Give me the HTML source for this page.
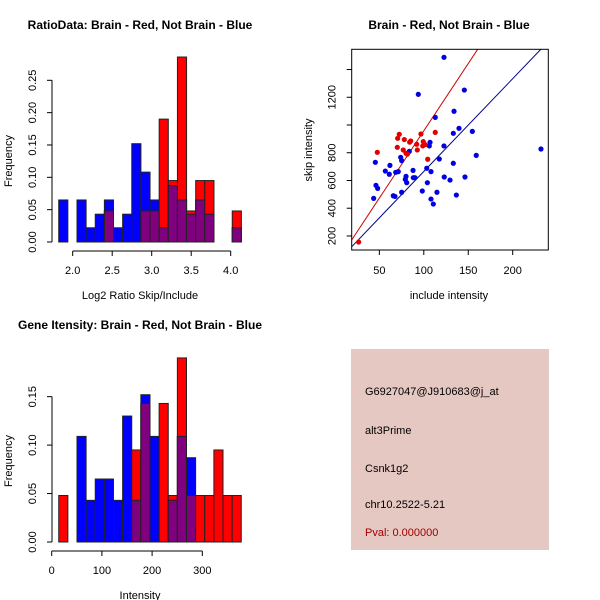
<!DOCTYPE html>
<html><head><meta charset="utf-8"><style>
body{margin:0;background:#fff;}
svg{display:block;font-family:"Liberation Sans",sans-serif;}
</style></head><body>
<svg id="s" width="600" height="600" viewBox="0 0 600 600">
<rect x="0" y="0" width="600" height="600" fill="#fff"/>
<text x="140" y="29" font-size="12" font-weight="bold" text-anchor="middle">RatioData: Brain - Red, Not Brain - Blue</text>
<text x="449" y="29" font-size="12" font-weight="bold" text-anchor="middle">Brain - Red, Not Brain - Blue</text>
<text x="140" y="329" font-size="12" font-weight="bold" text-anchor="middle">Gene Itensity: Brain - Red, Not Brain - Blue</text>
<text x="140" y="299" font-size="11" text-anchor="middle">Log2 Ratio Skip/Include</text>
<text transform="translate(12,161) rotate(-90)" font-size="11" text-anchor="middle">Frequency</text>
<text x="449" y="299" font-size="11" text-anchor="middle">include intensity</text>
<text transform="translate(312,150) rotate(-90)" font-size="11" text-anchor="middle">skip intensity</text>
<text x="140" y="599" font-size="11" text-anchor="middle">Intensity</text>
<text transform="translate(12,461) rotate(-90)" font-size="11" text-anchor="middle">Frequency</text>
<g>
<rect x="351" y="349" width="198" height="201" fill="#e6c8c2"/>
<text x="365" y="395" font-size="11">G6927047@J910683@j_at</text>
<text x="365" y="434" font-size="11">alt3Prime</text>
<text x="365" y="472" font-size="11">Csnk1g2</text>
<text x="365" y="508" font-size="11">chr10.2522-5.21</text>
<text x="365" y="536" font-size="11" fill="#a00000">Pval: 0.000000</text>
</g>
</svg>
<script>
// Ratio histogram data
const ratioBinStart = 1.823, ratioBinWidth = 0.1156;
const ratioBlue = [0.065,0,0.065,0.022,0.043,0.065,0.022,0.043,0.152,0.108,0.065,0.022,0.087,0.065,0.043,0.065,0.043,0,0,0.022];
const ratioRed  = [0,0,0,0,0,0.048,0,0,0,0.048,0.048,0.19,0.095,0.286,0.048,0.095,0.095,0,0,0.048];
const ratioXTicks = [2.0,2.5,3.0,3.5,4.0];
const ratioXLabels = ["2.0","2.5","3.0","3.5","4.0"];
const ratioYTicks = [0,0.05,0.1,0.15,0.2,0.25];
const ratioYLabels = ["0.00","0.05","0.10","0.15","0.20","0.25"];
// Intensity histogram data
const intBinStart = 14, intBinWidth = 18.18;
const intBlue = [0,0,0.109,0.043,0.065,0.065,0.043,0.13,0.043,0.152,0.109,0,0.043,0.109,0.087,0,0,0,0,0];
const intRed  = [0.048,0,0,0,0,0,0,0,0.095,0.143,0,0.143,0.048,0.19,0.048,0.048,0.048,0.095,0.048,0.048];
const intXTicks = [0,100,200,300];
const intXLabels = ["0","100","200","300"];
const intYTicks = [0,0.05,0.1,0.15];
const intYLabels = ["0.00","0.05","0.10","0.15"];
// Scatter data
const blueX = [122.7,93.8,145.6,134,112.9,139.6,133.2,154.6,107,106.2,122.7,159,231.8,83.7,74,75.1,117.4,45.5,61.9,56.7,61.2,68.4,71.3,87.9,103.3,108.1,133.2,79.2,80.8,88.2,90.1,104,123,129.5,146.3,46.2,48.1,65.7,67.6,75.1,98.3,108.1,114.8,136.6,43.6,110.7,80];
const blueY = [1488,1221,1252,1099,1055,976,940,954,875,849,849,781,827,810,767,743,755,731,709,668,645,659,664,673,688,664,724,608,584,620,620,584,625,603,625,565,543,490,485,515,524,466,515,495,471,430,630];
const redX = [26.7,47.7,72.4,70.6,78.1,85.3,84.1,96.8,112.9,99.4,92,98.8,101.6,70.2,76.9,80,81.5,92.7,104.4];
const redY = [156,803,933,904,895,885,876,935,947,880,861,849,858,839,820,796,790,820,753];
const redFit = [9.7,-12];   // slope, intercept
const blueFit = [6.69,-4];
const scX = [50,100,150,200];
const scYTicks = [200,400,600,800,1000,1200,1400];
const scYLabels = ["200","400","600","800","","1200",""];

const NS="http://www.w3.org/2000/svg";
const svg=document.getElementById('s');
function mk(tag,attrs,parent){const e=document.createElementNS(NS,tag);for(const k in attrs)e.setAttribute(k,attrs[k]);(parent||svg).appendChild(e);return e;}

function histogram(cfg){
  const g=mk('g',{});
  
  
  const xs=v=>cfg.x0+(v-cfg.xv0)*cfg.xk;
  const ys=v=>cfg.y0-v*cfg.yk;
  for(let i=0;i<cfg.blue.length;i++){
    const a=cfg.start+i*cfg.w,b=a+cfg.w;
    const x=xs(a),wd=xs(b)-xs(a);
    const draw=(v,col,nm)=>{ if(v<=0)return; const r=mk('rect',{x:x,y:ys(v),width:wd,height:ys(0)-ys(v),fill:col,stroke:'#222','stroke-width':1},g);
      
      };
    draw(cfg.blue[i],'#0000ff','blue-bar');
    draw(cfg.red[i],'#ff0000','red-bar');
    draw(Math.min(cfg.blue[i],cfg.red[i]),'#800080','overlap-bar');
  }
  const ax=mk('g',{stroke:'#000','stroke-width':1,fill:'none'},g);
  
  
  const xa=cfg.y0+9;
  mk('line',{x1:xs(cfg.xt[0]),x2:xs(cfg.xt[cfg.xt.length-1]),y1:xa,y2:xa},ax);
  cfg.xt.forEach((t,i)=>{mk('line',{x1:xs(t),x2:xs(t),y1:xa,y2:xa+5},ax);
    const tx=mk('text',{x:xs(t),y:xa+23,'font-size':11,'text-anchor':'middle',fill:'#000',stroke:'none'},g);tx.textContent=cfg.xl[i];
    
    });
  const ya=cfg.yaxis;
  mk('line',{x1:ya,x2:ya,y1:ys(cfg.yt[0]),y2:ys(cfg.yt[cfg.yt.length-1])},ax);
  cfg.yt.forEach((t,i)=>{mk('line',{x1:ya,x2:ya-5,y1:ys(t),y2:ys(t)},ax);
    const tx=mk('text',{transform:`translate(${ya-16},${ys(t)}) rotate(-90)`,'font-size':11,'text-anchor':'middle',fill:'#000',stroke:'none'},g);tx.textContent=cfg.yl[i];
    
    });
}
histogram({name:'ratio-histogram',blue:ratioBlue,red:ratioRed,start:ratioBinStart,w:ratioBinWidth,x0:72.7,xv0:2.0,xk:79,y0:242,yk:646.8,xt:ratioXTicks,xl:ratioXLabels,yt:ratioYTicks,yl:ratioYLabels,yaxis:52});
histogram({name:'intensity-histogram',blue:intBlue,red:intRed,start:intBinStart,w:intBinWidth,x0:51.7,xv0:0,xk:0.502,y0:542,yk:968.9,xt:intXTicks,xl:intXLabels,yt:intYTicks,yl:intYLabels,yaxis:52});

// scatter
(function(){
  const g=mk('g',{});
  
  
  const xs=v=>334.9+v*0.889, ys=v=>263.7-v*0.1387;
  const L=351.7,R=548.3,T=49.3,B=250;
  const clip=mk('clipPath',{id:'sc'},g);mk('rect',{x:L,y:T,width:R-L,height:B-T},clip);
  const pts=mk('g',{'clip-path':'url(#sc)'},g);
  [[redFit,'#cc0000','red-fit-line'],[blueFit,'#00008b','blue-fit-line']].forEach(([f,c,n])=>{
    const x1=0,x2=260;
    const l=mk('line',{x1:xs(x1),y1:ys(f[0]*x1+f[1]),x2:xs(x2),y2:ys(f[0]*x2+f[1]),stroke:c,'stroke-width':1},pts);
    
    
  });
  blueX.forEach((x,i)=>{const c=mk('circle',{cx:xs(x),cy:ys(blueY[i]),r:2.6,fill:'#0000e0'},pts);
    
    });
  redX.forEach((x,i)=>{const c=mk('circle',{cx:xs(x),cy:ys(redY[i]),r:2.6,fill:'#e00000'},pts);
    
    });
  const box=mk('rect',{x:L,y:T,width:R-L,height:B-T,fill:'none',stroke:'#000'},g);
  
  
  scX.forEach(t=>{mk('line',{x1:xs(t),x2:xs(t),y1:B,y2:B+5,stroke:'#000'},g);
    const tx=mk('text',{x:xs(t),y:B+24,'font-size':11,'text-anchor':'middle'},g);tx.textContent=t;
    
    });
  scYTicks.forEach((t,i)=>{mk('line',{x1:L,x2:L-5,y1:ys(t),y2:ys(t),stroke:'#000'},g);
    if(!scYLabels[i])return;
    const tx=mk('text',{transform:`translate(${L-16},${ys(t)}) rotate(-90)`,'font-size':11,'text-anchor':'middle'},g);tx.textContent=scYLabels[i];
    
    });
})();
</script>
</body></html>
